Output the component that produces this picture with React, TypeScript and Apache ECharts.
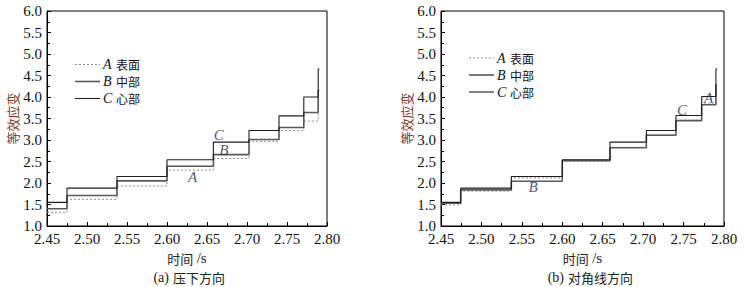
import React, { useEffect, useRef } from "react";
import * as echarts from "echarts";

// Panel (a) 压下方向: step times and strain levels
const timesA = [2.45, 2.475, 2.5375, 2.6, 2.658, 2.7025, 2.74, 2.771, 2.789];
const stubEndA = 2.7905;
const aSurface = [1.32, 1.62, 1.93, 2.3, 2.57, 2.97, 3.22, 3.44, 3.98];
const aMiddle = [1.4, 1.71, 2.05, 2.39, 2.66, 3.01, 3.29, 3.64, 4.15];
const aCore = [1.55, 1.88, 2.15, 2.54, 2.95, 3.22, 3.56, 4.0, 4.65];

// Panel (b) 对角线方向
const timesB = [2.45, 2.4744, 2.537, 2.6, 2.659, 2.704, 2.7406, 2.7724, 2.79];
const stubEndB = 2.7915;
const bSurface = [1.49, 1.81, 2.12, 2.51, 2.83, 3.12, 3.46, 3.84, 4.25];
const bMiddle = [1.53, 1.84, 2.04, 2.52, 2.82, 3.11, 3.45, 3.82, 4.28];
const bCore = [1.55, 1.88, 2.15, 2.54, 2.95, 3.22, 3.57, 4.01, 4.65];

const seriesLetters = ["A", "B", "C"];
const seriesLabels = ["表面", "中部", "心部"];
const xTicks = { min: 2.45, max: 2.8, interval: 0.05 };
const yTicks = { min: 1.0, max: 6.0, interval: 0.5 };

// in-plot annotation labels [x, y, text]
const labelsA: [number, number, string][] = [
  [2.6646, 3.12, "C"],
  [2.671, 2.77, "B"],
  [2.632, 2.14, "A"],
];
const labelsB: [number, number, string][] = [
  [2.5638, 1.91, "B"],
  [2.748, 3.7, "C"],
  [2.781, 3.98, "A"],
];

const captionTags = ["(a)", "(b)"];
const captionTexts = ["压下方向", "对角线方向"];

function stepData(times: number[], levels: number[], stubEnd: number) {
  const pts = times.map((t, i) => [t, levels[i]]);
  pts.push([stubEnd, levels[levels.length - 1]]);
  return pts;
}

const serif = "Liberation Serif";
const cjk = "Noto Sans CJK SC";

const lineStyles = [
  { color: "#8c8c8c", width: 1, type: [2, 2] as any },
  { color: "#5a5a5a", width: 1.6, type: "solid" as any },
  { color: "#1e1e1e", width: 1.1, type: "solid" as any },
];

export default function App() {
  const ref = useRef<HTMLDivElement>(null);
  useEffect(() => {
    if (!ref.current) return;
    const chart = echarts.init(ref.current, null, { renderer: "svg" });

    const grids = [
      { left: 47, right: 744 - 327, top: 11, bottom: 287 - 226 },
      { left: 441, right: 744 - 724, top: 11, bottom: 287 - 226 },
    ];

    const xAxes = grids.map((_, gi) => ({
      type: "value",
      gridIndex: gi,
      min: xTicks.min,
      max: xTicks.max,
      interval: xTicks.interval,
      name: "{c|时间} {s|/s}",
      nameLocation: "middle",
      nameGap: 24,
      nameTextStyle: {
        rich: {
          c: { fontFamily: cjk, fontSize: 13, color: "#222" },
          s: { fontFamily: serif, fontSize: 15, color: "#222" },
        },
      },
      axisLine: { show: true, lineStyle: { color: "#000", width: 1 } },
      axisTick: { show: true, inside: true, length: 4, lineStyle: { color: "#000" } },
      minorTick: { show: true, splitNumber: 2, length: 3, lineStyle: { color: "#000" } },
      splitLine: { show: false },
      axisLabel: {
        formatter: (v: number) => v.toFixed(2),
        fontFamily: serif,
        fontSize: 15,
        color: "#111",
        margin: 5,
      },
    }));

    const yAxes = grids.map((_, gi) => ({
      type: "value",
      gridIndex: gi,
      min: yTicks.min,
      max: yTicks.max,
      interval: yTicks.interval,
      name: "等效应变",
      nameLocation: "middle",
      nameGap: gi === 0 ? 27 : 25,
      nameRotate: 90,
      nameTextStyle: { fontFamily: cjk, fontSize: 13, color: "#7b3a2a" },
      axisLine: { show: true, lineStyle: { color: "#000", width: 1 } },
      axisTick: { show: true, inside: true, length: 4, lineStyle: { color: "#000" } },
      minorTick: { show: true, splitNumber: 2, length: 3, lineStyle: { color: "#000" } },
      splitLine: { show: false },
      axisLabel: {
        formatter: (v: number) => v.toFixed(1),
        fontFamily: serif,
        fontSize: 15,
        color: "#111",
        margin: 5,
      },
    }));

    const panelData = [
      { times: timesA, stub: stubEndA, levels: [aSurface, aMiddle, aCore], labels: labelsA },
      { times: timesB, stub: stubEndB, levels: [bSurface, bMiddle, bCore], labels: labelsB },
    ];

    const series: any[] = [];
    panelData.forEach((p, gi) => {
      p.levels.forEach((lv, si) => {
        series.push({
          type: "line",
          name: seriesLetters[si] + " " + seriesLabels[si],
          xAxisIndex: gi,
          yAxisIndex: gi,
          step: "end",
          symbol: "none",
          lineStyle: lineStyles[si],
          itemStyle: { color: lineStyles[si].color },
          data: stepData(p.times, lv, p.stub),
          z: 3 + si,
        });
      });
      series.push({
        type: "scatter",
        name: "labels" + gi,
        xAxisIndex: gi,
        yAxisIndex: gi,
        symbolSize: 1,
        itemStyle: { color: "rgba(0,0,0,0)" },
        data: p.labels,
        label: {
          show: true,
          position: "inside",
          formatter: (d: any) => d.value[2],
          fontFamily: serif,
          fontStyle: "italic",
          fontSize: 15,
          color: "#1c2a55",
        },
        z: 10,
      });
    });

    // hand-drawn legends (line sample + texts)
    const legendPos = [
      { x: 75, y: 64.5, gap: 17 },
      { x: 469, y: 58, gap: 17 },
    ];
    const graphics: any[] = [];
    legendPos.forEach((lp) => {
      seriesLetters.forEach((letter, si) => {
        const cy = lp.y + si * lp.gap;
        graphics.push({
          type: "line",
          shape: { x1: lp.x, y1: cy, x2: lp.x + 25, y2: cy },
          style: {
            stroke: lineStyles[si].color,
            lineWidth: lineStyles[si].width,
            lineDash: si === 0 ? [2, 2] : null,
          },
          z: 20,
        });
        graphics.push({
          type: "text",
          x: lp.x + 28,
          y: cy,
          style: {
            text: letter,
            verticalAlign: "middle",
            fontFamily: serif,
            fontStyle: "italic",
            fontSize: 14,
            lineHeight: 13,
            fill: "#111",
          },
          z: 20,
        });
        graphics.push({
          type: "text",
          x: lp.x + 41,
          y: cy,
          style: {
            text: seriesLabels[si],
            verticalAlign: "middle",
            fontFamily: cjk,
            fontSize: 12,
            lineHeight: 12,
            fill: "#111",
          },
          z: 20,
        });
      });
    });
    const captionCenters = [189, 584];
    captionCenters.forEach((cx, i) => {
      graphics.push({
        type: "text",
        x: cx - 20,
        y: 277,
        style: {
          text: captionTags[i],
          align: "right",
          verticalAlign: "middle",
          fontFamily: serif,
          fontSize: 14,
          fill: "#222",
        },
      });
      graphics.push({
        type: "text",
        x: cx - 16,
        y: 277,
        style: {
          text: captionTexts[i],
          align: "left",
          verticalAlign: "middle",
          fontFamily: cjk,
          fontSize: 13,
          fill: "#222",
        },
      });
    });

    chart.setOption({
      animation: false,
      backgroundColor: "#fff",
      grid: grids.map((g) => ({ ...g, show: true, borderColor: "#000", borderWidth: 1, backgroundColor: "transparent" })),
      xAxis: xAxes,
      yAxis: yAxes,
      series,
      graphic: graphics,
    });
    return () => chart.dispose();
  }, []);

  return (
    <div
      ref={ref}
      style={{ position: "fixed", left: 0, top: 0, width: 744, height: 287, background: "#fff" }}
    />
  );
}
